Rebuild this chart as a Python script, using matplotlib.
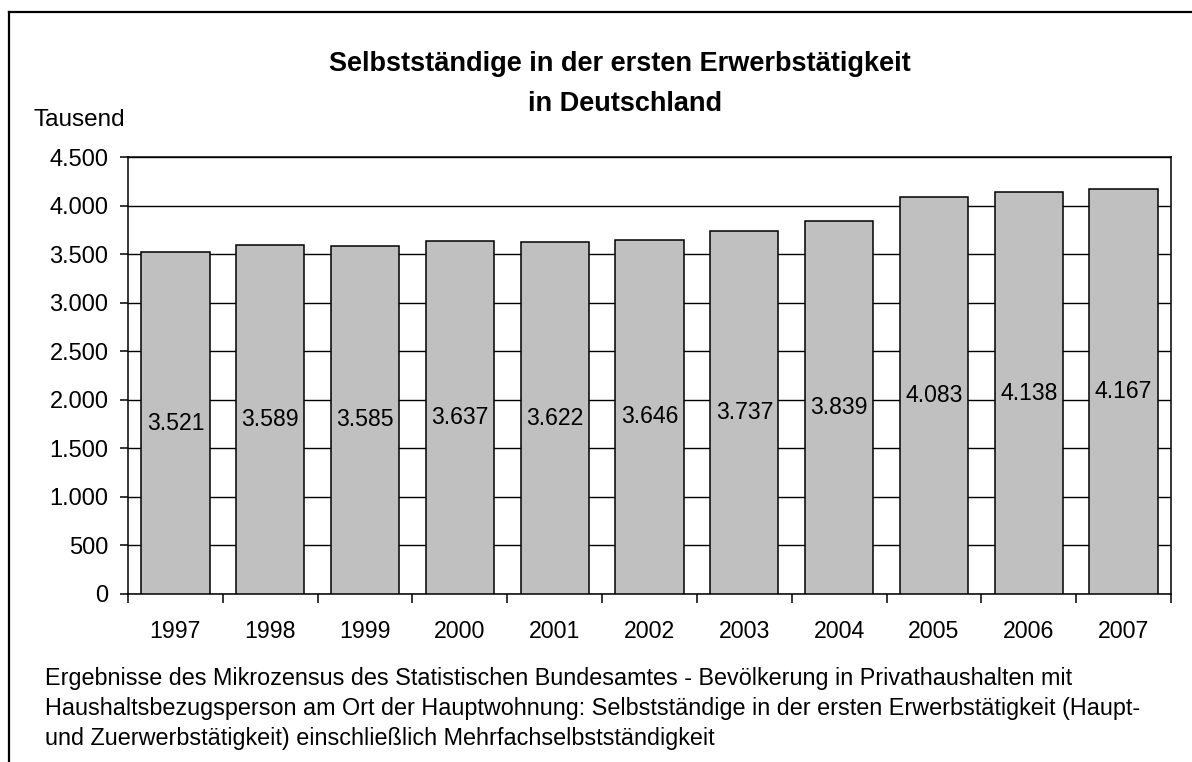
import matplotlib
matplotlib.use('Agg')
import matplotlib.pyplot as plt
import numpy as np

plt.rcParams['font.family'] = ['Liberation Sans', 'DejaVu Sans']

# data
years = ['1997', '1998', '1999', '2000', '2001', '2002', '2003', '2004', '2005', '2006', '2007']
selbststaendige = [3521, 3589, 3585, 3637, 3622, 3646, 3737, 3839, 4083, 4138, 4167]
value_labels = ['3.521', '3.589', '3.585', '3.637', '3.622', '3.646', '3.737', '3.839', '4.083', '4.138', '4.167']
y_ticks = [0, 500, 1000, 1500, 2000, 2500, 3000, 3500, 4000, 4500]
y_tick_labels = ['0', '500', '1.000', '1.500', '2.000', '2.500', '3.000', '3.500', '4.000', '4.500']

W, H = 1192, 762
fig = plt.figure(figsize=(W / 100, H / 100), dpi=100)

# outer frame (only left and top edges visible in the crop)
fig.add_artist(plt.Line2D([9 / W, 9 / W], [0, 1 - 12 / H], color='black', lw=1.6, transform=fig.transFigure))
fig.add_artist(plt.Line2D([9 / W, 1], [1 - 12 / H, 1 - 12 / H], color='black', lw=1.6, transform=fig.transFigure))

ax = fig.add_axes([128 / W, (H - 594) / H, (1171 - 128) / W, (594 - 157) / H])

x = np.arange(len(years))
ax.bar(x, selbststaendige, width=0.72, color='#C0C0C0', edgecolor='black', linewidth=1.1, zorder=3)

# value labels sit in the middle of each bar
for xi, v, lab in zip(x, selbststaendige, value_labels):
    ax.text(xi, v / 2, lab, ha='center', va='center', fontsize=16.6, zorder=4)

ax.set_ylim(0, 4500)
ax.set_xlim(-0.5, len(years) - 0.5)
ax.set_yticks(y_ticks)
ax.set_yticklabels(y_tick_labels, fontsize=17)
ax.yaxis.grid(True, color='black', linewidth=1.0, zorder=0)
ax.set_axisbelow(True)

ax.set_xticks(x)
ax.set_xticklabels(years, fontsize=16.7)
ax.set_xticks(np.arange(-0.5, len(years)), minor=True)
ax.tick_params(axis='x', which='major', length=0, pad=19)
ax.tick_params(axis='x', which='minor', length=6.5, width=1.1, direction='out')
ax.tick_params(axis='y', length=6, width=1.1, direction='out', pad=8)

for s in ax.spines.values():
    s.set_linewidth(1.1)

fig.text(620 / W, 1 - 64 / H, 'Selbstständige in der ersten Erwerbstätigkeit',
         ha='center', va='center', fontsize=19.5, fontweight='bold')
fig.text(625 / W, 1 - 104 / H, 'in Deutschland',
         ha='center', va='center', fontsize=19.5, fontweight='bold')
fig.text(34 / W, 1 - 126 / H, 'Tausend', ha='left', va='baseline', fontsize=17.5)

note = ['Ergebnisse des Mikrozensus des Statistischen Bundesamtes - Bevölkerung in Privathaushalten mit',
        'Haushaltsbezugsperson am Ort der Hauptwohnung: Selbstständige in der ersten Erwerbstätigkeit (Haupt-',
        'und Zuerwerbstätigkeit) einschließlich Mehrfachselbstständigkeit']
for i, line in enumerate(note):
    fig.text(45 / W, 1 - (685 + i * 30) / H, line, ha='left', va='baseline', fontsize=16.8)

fig.savefig('out.png', dpi=100)
